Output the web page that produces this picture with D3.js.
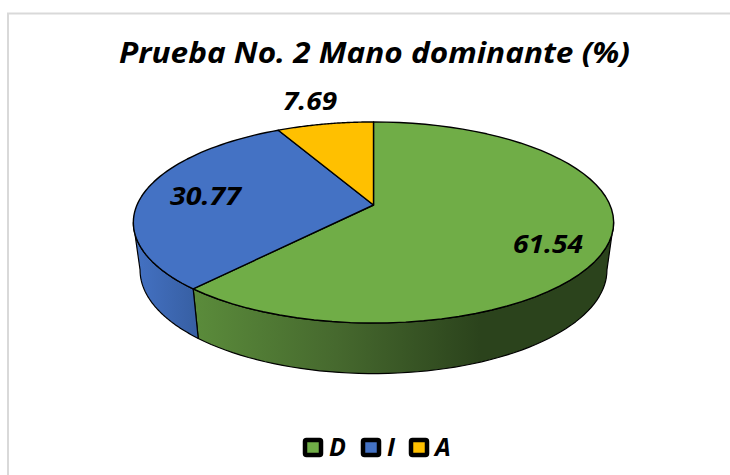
<!DOCTYPE html>
<html>
<head>
<meta charset="utf-8">
<script src="https://cdn.jsdelivr.net/npm/d3@7"></script>
<style>
  html, body { margin: 0; padding: 0; background: #fff; }
  svg { display: block; }
  text { font-family: 'Open Sans', sans-serif; font-weight: 700; font-style: italic; fill: #000; }
</style>
</head>
<body>
<svg id="chart" width="730" height="475"></svg>
<script>
// chart data
const categories = ['D', 'I', 'A'];
const values = [61.54, 30.77, 7.69];
const labels = ['61.54', '30.77', '7.69'];
const colors = ['#70ad47', '#4472c4', '#ffc000'];
const titleText = 'Prueba No. 2 Mano dominante (%)';

const svg = d3.select('#chart');

// frame of the chart area, only top and left show in the picture
svg.append('path')
  .attr('d', 'M8,475V13.5H730')
  .attr('fill', 'none')
  .attr('stroke', '#d9d9d9')
  .attr('stroke-width', 2);

// disc tilted in perspective: far side is shorter than the near side
const cx = 373.5, cy = 205, wide = 236.5, high = 97.5, persp = 0.174;
const project = (a) => {
  const u = Math.sin(a), v = Math.cos(a), s = 1 + persp * v;
  return [cx + (wide * u) / s, cy - (high * v) / s];
};
// rim of the bottom face
const projectLow = (a) => {
  const [x, y] = project(a);
  return [cx + (x - cx) * 0.972, cy + (y - cy) * 1.03 + 47];
};

const arcs = d3.pie().sort(null).value((d) => d)(values);
const line = d3.line();
const steps = (a0, a1) => d3.range(0, 61).map((i) => a0 + ((a1 - a0) * i) / 60);

// gradients for the side wall
const defs = svg.append('defs');
const grad = (id, x1, x2, stops) => {
  const g = defs.append('linearGradient')
    .attr('id', id)
    .attr('gradientUnits', 'userSpaceOnUse')
    .attr('x1', x1).attr('x2', x2).attr('y1', 0).attr('y2', 0);
  stops.forEach((s) => g.append('stop').attr('offset', s[0]).attr('stop-color', s[1]));
};
grad('side-d', 192, 480, [[0, '#5b8c3b'], [0.5, '#46692e'], [1, '#2b431c']]);
grad('side-i', 134, 197, [[0, '#4472c4'], [1, '#375fa3']]);

// side wall, front part only
const edgeLeft = (3 * Math.PI) / 2 - 0.175;
const edgeRight = Math.PI / 2 + 0.175;
const walls = [
  { a0: edgeRight, a1: arcs[0].endAngle, fill: 'url(#side-d)' },
  { a0: arcs[1].startAngle, a1: edgeLeft, fill: 'url(#side-i)' }
];
svg.append('g').selectAll('path')
  .data(walls)
  .enter()
  .append('path')
  .attr('d', (d) => {
    const top = steps(d.a0, d.a1).map(project);
    const low = steps(d.a0, d.a1).map(projectLow).reverse();
    return line(top.concat(low)) + 'Z';
  })
  .attr('fill', (d) => d.fill)
  .attr('stroke', '#000')
  .attr('stroke-width', 1.2)
  .attr('stroke-linejoin', 'round');

// top face
svg.append('g').selectAll('path')
  .data(arcs)
  .enter()
  .append('path')
  .attr('d', (d) => line([[cx, cy]].concat(steps(d.startAngle, d.endAngle).map(project))) + 'Z')
  .attr('fill', (d, i) => colors[i])
  .attr('stroke', '#000')
  .attr('stroke-width', 1.4)
  .attr('stroke-linejoin', 'round');

// title, the original is a wide stretched font so force its width
svg.append('text')
  .attr('x', 119)
  .attr('y', 63)
  .attr('font-size', 29)
  .attr('textLength', 511)
  .attr('lengthAdjust', 'spacingAndGlyphs')
  .text(titleText);

// data labels
const labelPos = [[513, 253, 70], [170, 205, 71], [283, 110, 54]];
svg.append('g').selectAll('text')
  .data(labels)
  .enter()
  .append('text')
  .attr('x', (d, i) => labelPos[i][0])
  .attr('y', (d, i) => labelPos[i][1])
  .attr('font-size', 25)
  .attr('textLength', (d, i) => labelPos[i][2])
  .attr('lengthAdjust', 'spacingAndGlyphs')
  .text((d) => d);

// legend
const legendX = [305, 363, 411];
const legend = svg.append('g').selectAll('g')
  .data(categories)
  .enter()
  .append('g')
  .attr('transform', (d, i) => `translate(${legendX[i]},440)`);
legend.append('rect')
  .attr('width', 16)
  .attr('height', 15)
  .attr('rx', 1.5)
  .attr('fill', (d, i) => colors[i])
  .attr('stroke', '#000')
  .attr('stroke-width', 4.5);
legend.append('text')
  .attr('x', 24)
  .attr('y', 15.5)
  .attr('font-size', 25)
  .text((d) => d);
</script>
</body>
</html>
